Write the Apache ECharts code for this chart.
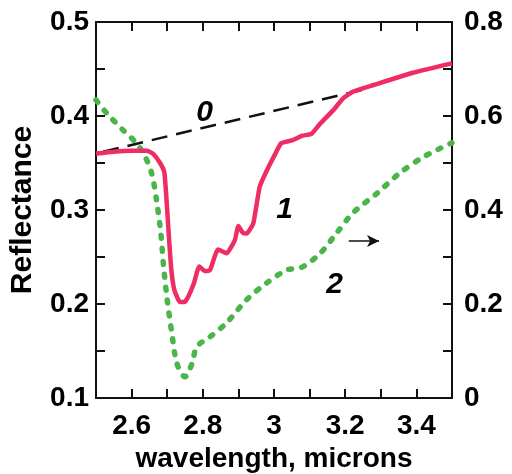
<!DOCTYPE html>
<html>
<head>
<meta charset="utf-8">
<script src="https://cdn.jsdelivr.net/npm/echarts@6/dist/echarts.min.js"></script>
<style>
  html, body { margin: 0; padding: 0; background: #fff; }
  #chart { width: 512px; height: 474px; }
</style>
</head>
<body>
<div id="chart"></div>
<script>
// curve 1 - reflectance (left axis)
var curve1 = [
  [2.5, 0.360], [2.55, 0.362], [2.6, 0.363], [2.643, 0.363], [2.66, 0.360],
  [2.68, 0.350], [2.692, 0.340], [2.70, 0.300], [2.705, 0.270], [2.712, 0.235],
  [2.72, 0.215], [2.736, 0.202], [2.748, 0.202], [2.758, 0.207], [2.775, 0.222],
  [2.79, 0.240], [2.806, 0.235], [2.82, 0.236], [2.843, 0.258], [2.867, 0.254],
  [2.89, 0.268], [2.9, 0.283], [2.912, 0.276], [2.923, 0.275], [2.942, 0.286],
  [2.96, 0.325], [2.985, 0.346], [3.0, 0.357], [3.02, 0.371], [3.05, 0.374],
  [3.08, 0.379], [3.105, 0.381], [3.13, 0.392], [3.166, 0.406], [3.195, 0.419],
  [3.223, 0.426], [3.28, 0.433], [3.39, 0.446], [3.5, 0.456]
];
// curve 0 - continuum (left axis)
var curve0 = [[2.52, 0.362], [3.25, 0.428]];
// curve 2 - right axis
var curve2 = [
  [2.5, 0.634], [2.53, 0.606], [2.576, 0.570], [2.605, 0.549], [2.633, 0.521],
  [2.656, 0.479], [2.67, 0.421], [2.682, 0.351], [2.69, 0.279], [2.70, 0.209],
  [2.713, 0.138], [2.727, 0.074], [2.75, 0.045], [2.77, 0.074], [2.783, 0.109],
  [2.82, 0.130], [2.867, 0.160], [2.923, 0.209], [2.98, 0.245], [3.035, 0.272],
  [3.08, 0.279], [3.13, 0.308], [3.176, 0.351], [3.222, 0.394], [3.29, 0.436],
  [3.354, 0.479], [3.42, 0.513], [3.5, 0.543]
];
var curveLabels = [
  { name: '0', value: [2.805, 0.404] },
  { name: '1', value: [3.03, 0.300] },
  { name: '2', value: [3.17, 0.220] }
];
var arrowLine = [[3.21, 0.267], [3.295, 0.267]];

var fontFam = '"Liberation Sans", Arial, sans-serif';
var labelStyle = { color: '#000', fontSize: 28, fontWeight: 'bold', fontFamily: fontFam };

var chart = echarts.init(document.getElementById('chart'));
chart.setOption({
  animation: false,
  grid: { left: 96, right: 60, top: 22, bottom: 76, outerBoundsMode: 'none', containLabel: false },
  xAxis: [{
    type: 'value', min: 2.5, max: 3.5, interval: 0.1,
    name: 'wavelength, microns', nameLocation: 'middle', nameGap: 44,
    nameTextStyle: { color: '#000', fontSize: 28, fontWeight: 'bold', fontFamily: fontFam },
    axisLine: { lineStyle: { color: '#111', width: 2 } },
    axisTick: { inside: true, length: 9, lineStyle: { color: '#111', width: 2 } },
    axisLabel: Object.assign({
      margin: 14,
      formatter: function (v) {
        var k = Math.round(v * 10);
        return (k % 2 === 0) ? String(k / 10) : '';
      }
    }, labelStyle),
    splitLine: { show: false }
  }, {
    type: 'value', min: 2.5, max: 3.5, interval: 0.1, position: 'top',
    axisLine: { lineStyle: { color: '#111', width: 2 } },
    axisTick: { inside: true, length: 9, lineStyle: { color: '#111', width: 2 } },
    axisLabel: { show: false },
    splitLine: { show: false }
  }],
  yAxis: [{
    type: 'value', min: 0.1, max: 0.5, interval: 0.05,
    name: 'Reflectance', nameLocation: 'middle', nameGap: 58,
    nameTextStyle: { color: '#000', fontSize: 30, fontWeight: 'bold', fontFamily: fontFam },
    axisLine: { show: true, lineStyle: { color: '#111', width: 2 } },
    axisTick: { show: true, inside: true, length: 9, lineStyle: { color: '#111', width: 2 } },
    axisLabel: Object.assign({
      margin: 7,
      formatter: function (v) {
        var k = Math.round(v * 100);
        return (k % 10 === 0) ? (k / 100).toFixed(1) : '';
      }
    }, labelStyle),
    splitLine: { show: false }
  }, {
    type: 'value', min: 0, max: 0.8, interval: 0.1, position: 'right',
    axisLine: { show: true, lineStyle: { color: '#111', width: 2 } },
    axisTick: { show: true, inside: true, length: 9, lineStyle: { color: '#111', width: 2 } },
    axisLabel: Object.assign({
      margin: 12,
      formatter: function (v) {
        var k = Math.round(v * 10);
        if (k % 2 !== 0) return '';
        return k === 0 ? '0' : (k / 10).toFixed(1);
      }
    }, labelStyle),
    splitLine: { show: false }
  }],
  series: [{
    name: '0', type: 'line', data: curve0, showSymbol: false, z: 2,
    lineStyle: { color: '#111', width: 2.5, type: [16, 9] }
  }, {
    name: '2', type: 'line', data: curve2, yAxisIndex: 1, showSymbol: false, smooth: 0.3, z: 3,
    lineStyle: { color: '#4bb54b', width: 5.5, type: [3, 10], cap: 'round' }
  }, {
    name: '1', type: 'line', data: curve1, showSymbol: false, smooth: 0.15, z: 4,
    lineStyle: { color: '#ee2d64', width: 4.5, join: 'round' }
  }, {
    name: 'labels', type: 'scatter', data: curveLabels, symbolSize: 0, z: 5,
    itemStyle: { opacity: 1 },
    label: {
      show: true, position: 'inside', formatter: '{b}',
      color: '#000', fontSize: 30, fontWeight: 'bold', fontStyle: 'italic', fontFamily: fontFam
    }
  }, {
    name: 'arrow', type: 'line', data: [], showSymbol: false, z: 5,
    markLine: {
      silent: true, symbol: ['none', 'arrow'], symbolSize: [9, 12],
      label: { show: false },
      lineStyle: { color: '#111', width: 1.5, type: 'solid' },
      data: [[{ coord: arrowLine[0] }, { coord: arrowLine[1] }]]
    }
  }]
});
</script>
</body>
</html>
